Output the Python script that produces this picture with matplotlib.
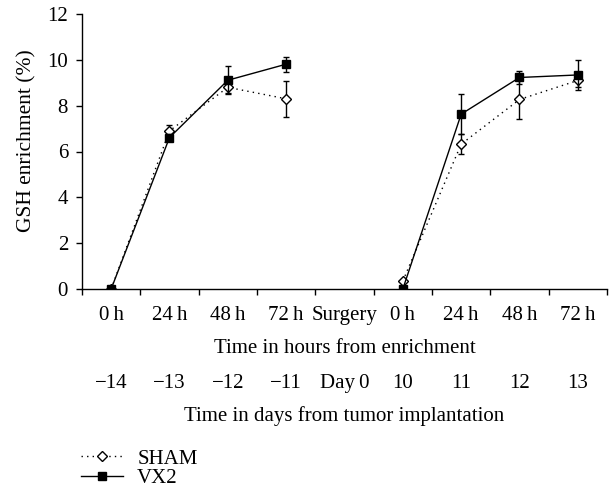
import matplotlib
matplotlib.use("Agg")
import matplotlib.pyplot as plt
from matplotlib.lines import Line2D
import numpy as np

hour_labels = ["0\u2009h", "24\u2009h", "48\u2009h", "72\u2009h", "Surgery", "0\u2009h", "24\u2009h", "48\u2009h", "72\u2009h"]
day_labels = ["\u221214", "\u221213", "\u221212", "\u221211", "Day\u20090", "10", "11", "12", "13"]

# indices of categories with data (Surgery has none)
pos_left = [0, 1, 2, 3]
pos_right = [5, 6, 7, 8]

sham_left = [0.0, 6.9, 8.8, 8.3]
sham_left_err = [0.0, 0.26, 0.26, 0.78]
sham_right = [0.35, 6.32, 8.27, 9.1]
sham_right_err = [0.0, 0.43, 0.83, 0.3]

vx2_left = [0.0, 6.61, 9.11, 9.81]
vx2_left_err = [0.0, 0.15, 0.6, 0.32]
vx2_right = [0.0, 7.63, 9.23, 9.34]
vx2_right_err = [0.0, 0.86, 0.3, 0.65]

plt.rcParams['font.family'] = ['Liberation Serif', 'DejaVu Serif']
fs = 15

fig = plt.figure(figsize=(6.11, 4.92), dpi=100)
ax = fig.add_axes([82/611, (492-289)/492, (607-82)/611, (289-14)/492])

dots = (0, (1, 3))
common = dict(color='black', lw=1.0, capsize=2.5, elinewidth=1.0, capthick=1.0)
for xs, ys, es in [(pos_left, sham_left, sham_left_err), (pos_right, sham_right, sham_right_err)]:
    ax.errorbar(xs, ys, yerr=es, fmt='D', linestyle=dots, markersize=5, markerfacecolor='white',
                markeredgecolor='black', markeredgewidth=1.0, zorder=3, **common)
for xs, ys, es in [(pos_left, vx2_left, vx2_left_err), (pos_right, vx2_right, vx2_right_err)]:
    ax.errorbar(xs, ys, yerr=es, fmt='s', linestyle='-', markersize=6, markerfacecolor='black',
                markeredgecolor='black', zorder=4, **common)

n = len(hour_labels)
ax.set_xlim(-0.5, n - 0.5)
ax.set_ylim(0, 12)
ax.set_yticks([0, 2, 4, 6, 8, 10, 12])
ax.set_xticks(np.arange(n + 1) - 0.5)
ax.set_xticklabels([])
ax.set_xticks(np.arange(n), minor=True)
ax.set_xticklabels(hour_labels, minor=True, fontsize=fs)
ax.tick_params(axis='x', which='major', direction='out', length=4, width=1)
ax.tick_params(axis='x', which='minor', length=0, pad=12)
ax.tick_params(axis='y', direction='out', length=4, width=1, labelsize=fs, pad=6)
for s in ['top', 'right']:
    ax.spines[s].set_visible(False)
ax.spines['left'].set_linewidth(1)
ax.spines['bottom'].set_linewidth(1)
ax.set_ylabel('GSH enrichment (%)', fontsize=fs + 0.5, labelpad=8)
ax.yaxis.set_label_coords(-0.086, 0.538)
ax.set_xlabel('Time in hours from enrichment', fontsize=fs, labelpad=10)

sec = ax.secondary_xaxis(-0.31)
sec.set_xticks(np.arange(n))
sec.set_xticklabels(day_labels, fontsize=fs)
sec.tick_params(length=0, pad=0)
sec.spines['bottom'].set_visible(False)
sec.set_xlabel('Time in days from tumor implantation', fontsize=fs, labelpad=9)

handles = [Line2D([], [], color='black', lw=1.0, linestyle=dots, marker='D', markersize=5,
                  markerfacecolor='white', markeredgecolor='black'),
           Line2D([], [], color='black', lw=1.0, linestyle='-', marker='s', markersize=6,
                  markerfacecolor='black', markeredgecolor='black')]
labels = ['SHAM', 'VX2']
leg = fig.legend(handles, labels, loc='upper left', bbox_to_anchor=(81/611, 1 - 449/492),
                 frameon=False, fontsize=fs, handlelength=2.0, handletextpad=0.7,
                 labelspacing=0.0, borderpad=0, borderaxespad=0)

fig.savefig('out.png', dpi=100)
